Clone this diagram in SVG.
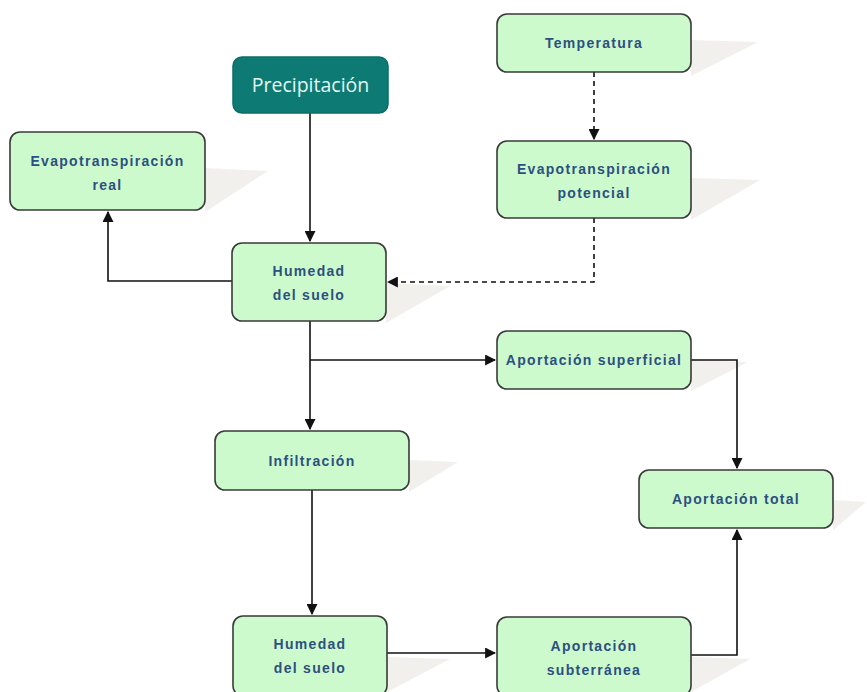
<svg xmlns="http://www.w3.org/2000/svg" width="867" height="692" viewBox="0 0 867 692">
<defs>
<style>
.box{fill:#ccfacc;stroke:#3a3a3a;stroke-width:1.6}
.sh{fill:#f1f0ec}
.t{font-family:"Liberation Sans",Arial,sans-serif;font-size:14px;font-weight:bold;fill:#2d5080;text-anchor:middle;letter-spacing:1.3px}
.c{fill:none;stroke:#111;stroke-width:1.6}
.d{stroke-dasharray:5,4}
</style>
<marker id="ah" viewBox="0 0 10 10" refX="9" refY="5" markerWidth="11" markerHeight="11" markerUnits="userSpaceOnUse" orient="auto"><path d="M0,0 L10,5 L0,10 z" fill="#111"/></marker>
</defs>
<rect width="867" height="692" fill="#fff"/>
<g id="shadows">
<polygon class="sh" points="691,40 758,42 691,76"/>
<polygon class="sh" points="691,178 760,180 691,220"/>
<polygon class="sh" points="205,168 268,171 205,212"/>
<polygon class="sh" points="386,283 450,286 386,323"/>
<polygon class="sh" points="691,360 748,362 691,391"/>
<polygon class="sh" points="409,460 458,462 409,492"/>
<polygon class="sh" points="833,500 866,502 833,530"/>
<polygon class="sh" points="387,657 450,659 387,692"/>
<polygon class="sh" points="691,657 750,659 691,692"/>
</g>
<g id="connectors">
<path class="c" d="M310,113 V241" marker-end="url(#ah)"/>
<path class="c d" d="M594,72 V139" marker-end="url(#ah)"/>
<path class="c d" d="M594,218 V282 H388" marker-end="url(#ah)"/>
<path class="c" d="M232,281 H108 V212" marker-end="url(#ah)"/>
<path class="c" d="M310,321 V429" marker-end="url(#ah)"/>
<path class="c" d="M310,360 H495" marker-end="url(#ah)"/>
<path class="c" d="M691,360 H737 V468" marker-end="url(#ah)"/>
<path class="c" d="M312,490 V614" marker-end="url(#ah)"/>
<path class="c" d="M387,653 H495" marker-end="url(#ah)"/>
<path class="c" d="M691,655 H737 V530" marker-end="url(#ah)"/>
</g>
<g id="precipitacion">
<rect x="233" y="57" width="155" height="56" rx="9" fill="#0d7b74" stroke="#0a6d66" stroke-width="1.5"/>
<text x="310.5" y="92" font-family="'Open Sans','Liberation Sans',sans-serif" font-size="19.5" fill="#e4f7f1" text-anchor="middle">Precipitación</text>
</g>
<g id="temperatura">
<rect class="box" x="497" y="14" width="194" height="58" rx="10"/>
<text class="t" x="594" y="48">Temperatura</text>
</g>
<g id="evap-potencial">
<rect class="box" x="497" y="141" width="194" height="77" rx="10"/>
<text class="t" x="594" y="174">Evapotranspiración</text>
<text class="t" x="594" y="198">potencial</text>
</g>
<g id="evap-real">
<rect class="box" x="10" y="132" width="195" height="78" rx="10"/>
<text class="t" x="107.5" y="166">Evapotranspiración</text>
<text class="t" x="107.5" y="190">real</text>
</g>
<g id="humedad1">
<rect class="box" x="232" y="243" width="154" height="78" rx="10"/>
<text class="t" x="309" y="276">Humedad</text>
<text class="t" x="309" y="300">del suelo</text>
</g>
<g id="aport-superficial">
<rect class="box" x="497" y="331" width="194" height="58" rx="10"/>
<text class="t" x="594" y="365">Aportación superficial</text>
</g>
<g id="infiltracion">
<rect class="box" x="215" y="431" width="194" height="59" rx="10"/>
<text class="t" x="312" y="466">Infiltración</text>
</g>
<g id="aport-total">
<rect class="box" x="639" y="470" width="194" height="58" rx="10"/>
<text class="t" x="736" y="504">Aportación total</text>
</g>
<g id="humedad2">
<rect class="box" x="233" y="616" width="154" height="80" rx="10"/>
<text class="t" x="310" y="649">Humedad</text>
<text class="t" x="310" y="673">del suelo</text>
</g>
<g id="aport-subterranea">
<rect class="box" x="497" y="617" width="194" height="79" rx="10"/>
<text class="t" x="594" y="651">Aportación</text>
<text class="t" x="594" y="675">subterránea</text>
</g>
</svg>
